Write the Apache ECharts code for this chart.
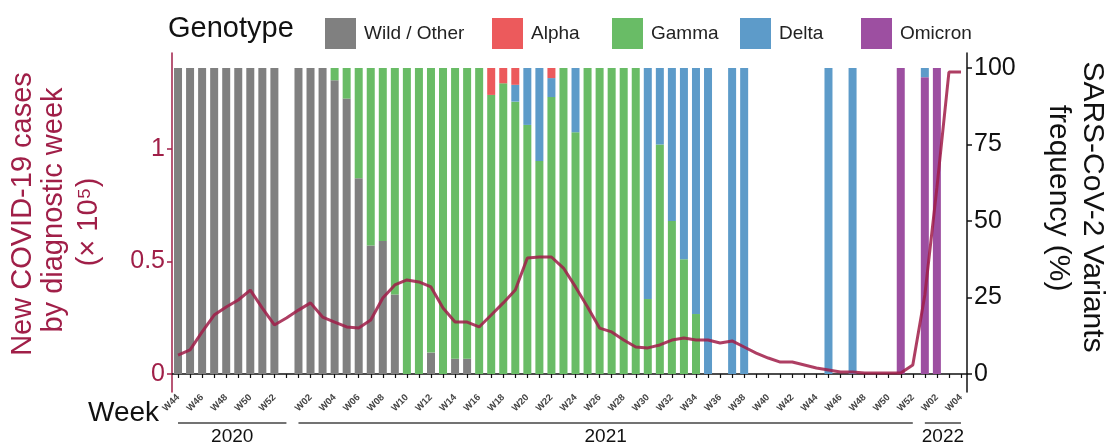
<!DOCTYPE html>
<html><head><meta charset="utf-8">
<script src="https://cdn.jsdelivr.net/npm/echarts@6/dist/echarts.min.js"></script>
<style>html,body{margin:0;padding:0;background:#fff}#c{width:1107px;height:448px}</style>
</head><body><div id="c"></div>
<script>
// ---------- DATA ----------
const weeks = [
 '2020 W44','2020 W45','2020 W46','2020 W47','2020 W48','2020 W49','2020 W50','2020 W51','2020 W52','2020 W53',
 '2021 W01','2021 W02','2021 W03','2021 W04','2021 W05','2021 W06','2021 W07','2021 W08','2021 W09','2021 W10',
 '2021 W11','2021 W12','2021 W13','2021 W14','2021 W15','2021 W16','2021 W17','2021 W18','2021 W19','2021 W20',
 '2021 W21','2021 W22','2021 W23','2021 W24','2021 W25','2021 W26','2021 W27','2021 W28','2021 W29','2021 W30',
 '2021 W31','2021 W32','2021 W33','2021 W34','2021 W35','2021 W36','2021 W37','2021 W38','2021 W39','2021 W40',
 '2021 W41','2021 W42','2021 W43','2021 W44','2021 W45','2021 W46','2021 W47','2021 W48','2021 W49','2021 W50',
 '2021 W51','2021 W52','2022 W01','2022 W02','2022 W03','2022 W04'
];
const years = ['2020','2021','2022'];
// new cases (x 10^5)
const cases = [
 0.084,0.107,0.187,0.262,0.298,0.329,0.373,0.293,0.218,0.249,
 0.284,0.316,0.253,0.231,0.209,0.204,0.240,0.338,0.396,0.418,
 0.409,0.387,0.293,0.231,0.231,0.209,0.262,0.316,0.373,0.516,
 0.520,0.520,0.471,0.387,0.298,0.204,0.187,0.151,0.120,0.116,
 0.129,0.151,0.160,0.151,0.151,0.138,0.147,0.120,0.093,0.071,
 0.053,0.053,0.040,0.027,0.018,0.009,0.009,0.004,0.004,0.004,
 0.004,0.040,0.351,0.827,1.342,1.342
];
// variant frequencies (%)
const wild = [
 100,100,100,100,100,100,100,100,100,0,
 100,100,100,96,90,64,42,43.5,26,0,
 0,7,0,5,5,0,0,0,0,0,
 0,0,0,0,0,0,0,0,0,0,
 0,0,0,0,0,0,0,0,0,0,
 0,0,0,0,0,0,0,0,0,0,
 0,0,0,0,0,0
];
const alpha = [
 0,0,0,0,0,0,0,0,0,0,
 0,0,0,0,0,0,0,0,0,0,
 0,0,0,0,0,0,8.8,5,5.5,0,
 0,3.3,0,0,0,0,0,0,0,0,
 0,0,0,0,0,0,0,0,0,0,
 0,0,0,0,0,0,0,0,0,0,
 0,0,0,0,0,0
];
const gamma = [
 0,0,0,0,0,0,0,0,0,0,
 0,0,0,4,10,36,58,56.5,74,100,
 100,93,100,95,95,100,91.2,95,89,81.4,
 69.6,90.5,100,79,100,100,100,100,100,24.5,
 75,50,37.5,19.6,0,0,0,0,0,0,
 0,0,0,0,0,0,0,0,0,0,
 0,0,0,0,0,0
];
const delta = [
 0,0,0,0,0,0,0,0,0,0,
 0,0,0,0,0,0,0,0,0,0,
 0,0,0,0,0,0,0,0,5.5,18.6,
 30.4,6.2,0,21,0,0,0,0,0,75.5,
 25,50,62.5,80.4,100,0,100,100,0,0,
 0,0,0,0,100,0,100,0,0,0,
 0,0,3,0,0,0
];
const omicron = [
 0,0,0,0,0,0,0,0,0,0,
 0,0,0,0,0,0,0,0,0,0,
 0,0,0,0,0,0,0,0,0,0,
 0,0,0,0,0,0,0,0,0,0,
 0,0,0,0,0,0,0,0,0,0,
 0,0,0,0,0,0,0,0,0,0,
 100,0,97,100,0,0
];
const leftTicks = [0, 0.5, 1];
const rightTicks = [0, 25, 50, 75, 100];

// ---------- STYLE ----------
const FONT = '"Liberation Sans", Arial, Helvetica, sans-serif';
const CRIMSON = '#a01f48';
const colors = {
  'Wild / Other': '#808080', 'Alpha': '#ec5a5c', 'Gamma': '#69bc66',
  'Delta': '#5d9bc9', 'Omicron': '#9d4fa1'
};
const stackOrder = [['Wild / Other', wild], ['Omicron', omicron], ['Gamma', gamma], ['Delta', delta], ['Alpha', alpha]];
const legendPos = {'Wild / Other': 320, 'Alpha': 487, 'Gamma': 607, 'Delta': 735, 'Omicron': 856};

const chart = echarts.init(document.getElementById('c'), null, {renderer: 'canvas'});

const barSeries = stackOrder.map(([name, vals]) => ({
  name, type: 'bar', stack: 'v', yAxisIndex: 1, data: vals, barWidth: 8,
  itemStyle: {color: colors[name]}, emphasis: {disabled: true}
}));

const legends = Object.keys(legendPos).map(name => ({
  data: [name], left: legendPos[name], top: 13, orient: 'horizontal',
  itemWidth: 31, itemHeight: 31, icon: 'rect', selectedMode: false,
  textStyle: {fontFamily: FONT, fontSize: 19, color: '#222', padding: [0, 0, 0, 3]}
}));

chart.setOption({
  animation: false,
  backgroundColor: '#fff',
  legend: legends,
  grid: {left: 172, right: 140, top: 53, bottom: 56, containLabel: false},
  xAxis: {
    type: 'category', data: weeks,
    axisLine: {lineStyle: {color: '#111', width: 1.5}},
    axisTick: {show: true, alignWithLabel: true, interval: 0, length: 4, lineStyle: {color: '#111', width: 1.2}},
    axisLabel: {
      interval: (i, v) => parseInt(v.slice(-2), 10) % 2 === 0,
      formatter: v => v.split(' ')[1],
      rotate: 45, fontSize: 9.5, fontWeight: 'bold', color: '#444', margin: 4, fontFamily: FONT
    },
    splitLine: {show: false}
  },
  yAxis: [
    {
      type: 'value', position: 'left', min: -0.08, max: 1.4267,
      axisLine: {show: true, lineStyle: {color: CRIMSON, width: 1.5}},
      axisTick: {show: true, length: 5, customValues: leftTicks, lineStyle: {color: CRIMSON, width: 1.5}},
      axisLabel: {customValues: leftTicks, color: CRIMSON, fontSize: 25, fontFamily: FONT, margin: 7},
      splitLine: {show: false}
    },
    {
      type: 'value', position: 'right', min: -5.88, max: 104.9,
      axisLine: {show: true, lineStyle: {color: '#111', width: 1.5}},
      axisTick: {show: true, length: 5, customValues: rightTicks, lineStyle: {color: '#111', width: 1.5}},
      axisLabel: {customValues: rightTicks, color: '#111', fontSize: 25, fontFamily: FONT, margin: 7},
      splitLine: {show: false}
    }
  ],
  series: barSeries.concat([{
    name: 'New cases', type: 'line', yAxisIndex: 0, data: cases, showSymbol: false, z: 5,
    lineStyle: {color: '#a01c48', width: 3, opacity: 0.85}, emphasis: {disabled: true}
  }])
});

// annotations: year brackets, titles
const g = [];
years.forEach(y => {
  const idx = weeks.map((w, i) => w.startsWith(y) ? i : -1).filter(i => i >= 0);
  const x0 = chart.convertToPixel({xAxisIndex: 0}, weeks[idx[0]]);
  const x1 = chart.convertToPixel({xAxisIndex: 0}, weeks[idx[idx.length - 1]]);
  g.push({type: 'line', shape: {x1: x0, y1: 423, x2: x1, y2: 423}, style: {stroke: '#444', lineWidth: 1.5}});
  g.push({type: 'text', x: (x0 + x1) / 2, y: 437, style: {text: y, fontSize: 19, fontFamily: FONT, fill: '#111', align: 'center', verticalAlign: 'middle'}});
});
g.push({type: 'text', x: 88, y: 413, style: {text: 'Week', fontSize: 28, fontFamily: FONT, fill: '#111', align: 'left', verticalAlign: 'middle'}});
g.push({type: 'text', x: 168, y: 29, style: {text: 'Genotype', fontSize: 29, fontFamily: FONT, fill: '#111', align: 'left', verticalAlign: 'middle'}});
// left axis title
[['New COVID-19 cases', 23, 214], ['by diagnostic week', 54, 210], ['(\u00d7 10\u2075)', 89, 222]].forEach(([t, x, y]) => {
  g.push({type: 'text', x, y, rotation: Math.PI / 2, style: {text: t, fontSize: 29, fontFamily: FONT, fill: CRIMSON, align: 'center', verticalAlign: 'middle'}});
});
// right axis title
[['SARS-CoV-2 Variants', 1092, 207], ['frequency (%)', 1058, 198]].forEach(([t, x, y]) => {
  g.push({type: 'text', x, y, rotation: -Math.PI / 2, style: {text: t, fontSize: 30, fontFamily: FONT, fill: '#111', align: 'center', verticalAlign: 'middle'}});
});
chart.setOption({graphic: g});
</script></body></html>
